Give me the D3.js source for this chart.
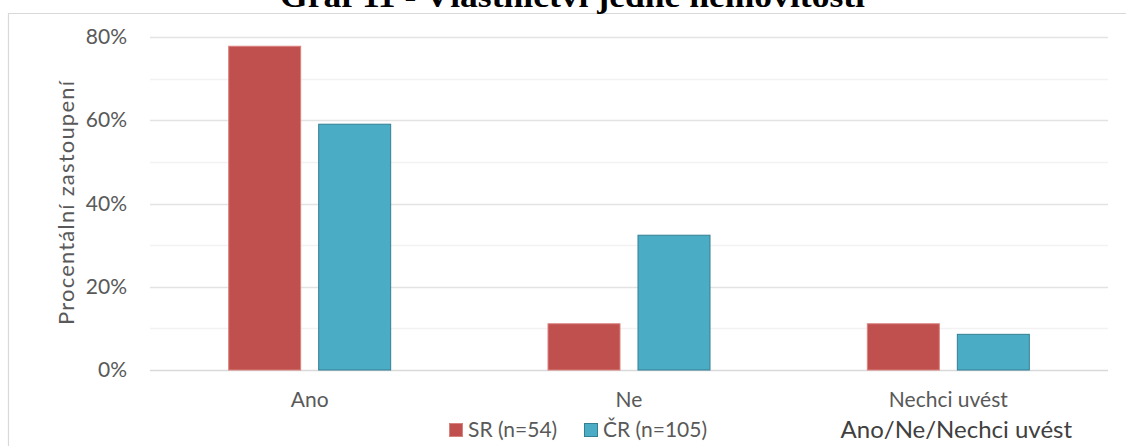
<!DOCTYPE html>
<html><head><meta charset="utf-8">
<script src="https://cdn.jsdelivr.net/npm/d3@7"></script>
<style>
html,body{margin:0;padding:0;background:#fff;}
svg{display:block;}
</style></head>
<body>
<svg id="chart" width="1126" height="446"></svg>
<script>
const categories = ["Ano", "Ne", "Nechci uvést"];
const seriesNames = ["SR (n=54)", "ČR (n=105)"];
const srValues = [0.7778, 0.1111, 0.1111];
const crValues = [0.5905, 0.3238, 0.0857];
const yTicks = [0, 0.2, 0.4, 0.6, 0.8];
const minorTicks = [0.1, 0.3, 0.5, 0.7];
const titleText = "Graf 11 - Vlastnictví jedné nemovitosti";
const yTitle = "Procentální zastoupení";
const xTitle = "Ano/Ne/Nechci uvést";

const fills = ["#C0504D", "#4BACC6"];
const strokes = ["#D9837F", "#357F93"];
const font = "Lato, 'Open Sans', sans-serif";

const svg = d3.select("#chart");
const W = 1126, H = 446;
const m = {left: 150, right: 18, top: 37, bottom: 76};

// frame
svg.append("path").attr("d", `M8.5,${H} V13.5 H${W}`).attr("fill","none").attr("stroke","#D9D9D9").attr("stroke-width",1.2);

// title (clipped at top, as in the reference)
svg.append("text").attr("x", 280).attr("y", 7)
  .attr("font-family","'Liberation Serif', serif").attr("font-weight","bold").attr("font-size",31)
  .attr("textLength", 585).attr("lengthAdjust","spacingAndGlyphs")
  .attr("fill","#000").text(titleText);

const x0 = d3.scaleBand().domain(categories).range([m.left, W - m.right]).paddingInner(0).paddingOuter(0);
const y = d3.scaleLinear().domain([0, 0.8]).range([H - m.bottom, m.top]);

const g = svg.append("g");
g.selectAll("line.minor").data(minorTicks).join("line")
  .attr("x1", m.left).attr("x2", W - m.right)
  .attr("y1", d => Math.round(y(d)) + 0.5).attr("y2", d => Math.round(y(d)) + 0.5)
  .attr("stroke", "#F2F2F2").attr("stroke-width", 1.5);
g.selectAll("line.major").data(yTicks).join("line")
  .attr("x1", m.left).attr("x2", W - m.right)
  .attr("y1", d => Math.round(y(d)) + 0.5).attr("y2", d => Math.round(y(d)) + 0.5)
  .attr("stroke", d => d === 0 ? "#D9D9D9" : "#E3E3E3").attr("stroke-width", 1.5);

// y axis labels
const yAxis = d3.axisLeft(y).tickValues(yTicks).tickFormat(d3.format(".0%")).tickSize(0).tickPadding(0);
const ya = svg.append("g").attr("transform", `translate(127,0)`).call(yAxis);
ya.select(".domain").remove();
ya.selectAll("text").attr("font-family", font).attr("font-size", 21).attr("fill", "#595959");

// y title
svg.append("text").attr("transform", `translate(74,325) rotate(-90)`)
  .attr("font-family", font).attr("font-size", 22).attr("fill","#595959")
  .attr("textLength", 244).attr("lengthAdjust","spacing").text(yTitle);

// bars
const barW = 72, gap = 18;
const data = categories.map((c, i) => ({c, vals: [srValues[i], crValues[i]]}));
const groups = svg.append("g").selectAll("g").data(data).join("g")
  .attr("transform", d => `translate(${x0(d.c) + x0.bandwidth()/2},0)`);
groups.selectAll("rect").data(d => d.vals.map((v, k) => ({v, k}))).join("rect")
  .attr("x", d => d.k === 0 ? -(barW + gap/2) : gap/2)
  .attr("width", barW)
  .attr("y", d => y(d.v))
  .attr("height", d => y(0) - y(d.v))
  .attr("fill", d => fills[d.k])
  .attr("stroke", d => strokes[d.k])
  .attr("stroke-width", 1);

// x axis labels
const xAxis = d3.axisBottom(x0).tickSize(0).tickPadding(0);
const xa = svg.append("g").attr("transform", `translate(0,${y(0)})`).call(xAxis);
xa.select(".domain").remove();
xa.selectAll("text").attr("dy", null).attr("y", 37).attr("font-family", font).attr("font-size", 21).attr("fill", "#595959");

// x title
svg.append("text").attr("x", x0("Nechci uvést") + x0.bandwidth()/2 + 8).attr("y", 438).attr("text-anchor","middle")
  .attr("font-family", font).attr("font-size", 24).attr("fill","#404040").text(xTitle);

// legend
const legX = [449, 584];
const leg = svg.append("g").selectAll("g").data(seriesNames).join("g")
  .attr("transform", (d, i) => `translate(${legX[i]},423)`);
leg.append("rect").attr("x", 0.5).attr("y", 0.5).attr("width", 13).attr("height", 13)
  .attr("fill", (d, i) => fills[i]).attr("stroke", (d, i) => strokes[i]);
leg.append("text").attr("x", 19).attr("y", 14).attr("font-family", font).attr("font-size", 21)
  .attr("fill", "#595959").text(d => d);
</script>
</body></html>
